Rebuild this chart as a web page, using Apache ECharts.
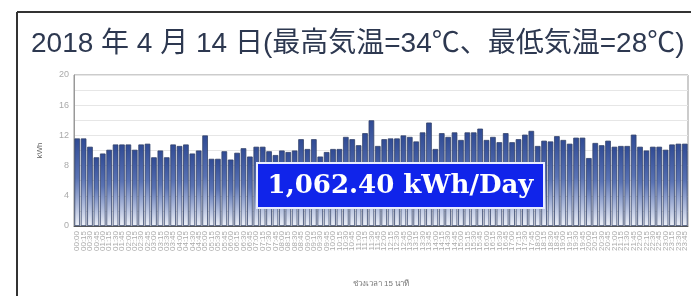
<!DOCTYPE html>
<html>
<head>
    <meta charset="utf-8"/>
    <title>ECharts</title>
    <script src="https://cdn.jsdelivr.net/npm/echarts@6/dist/echarts.min.js"></script>
    <style type="text/css">
        body{ margin:0; background:#fff; }
        #main{ width:691px; height:296px; }
    </style>
</head>
<body>
<div id="main"></div>
<script type="text/javascript">

    // 15-minute periods of the day
    var times = [];
    for (var h = 0; h < 24; h++) {
        for (var m = 0; m < 60; m += 15) {
            times.push((h < 10 ? '0' + h : h) + ':' + (m === 0 ? '00' : m));
        }
    }

    // kWh per 15 min
    var kwh = [
        11.6, 11.6, 10.5, 9.1, 9.6, 10.1, 10.8, 10.8, 10.8, 10.1, 10.8, 10.9,
        9.1, 10.0, 9.1, 10.8, 10.6, 10.8, 9.6, 10.0, 12.0, 8.9, 8.9, 9.9,
        8.8, 9.7, 10.3, 9.2, 10.5, 10.5, 9.9, 9.4, 10.0, 9.8, 10.0, 11.5,
        10.2, 11.5, 9.2, 9.8, 10.2, 10.2, 11.8, 11.5, 10.7, 12.3, 14.0, 10.6,
        11.5, 11.6, 11.6, 12.0, 11.8, 11.2, 12.4, 13.7, 10.2, 12.3, 11.8, 12.4,
        11.4, 12.4, 12.4, 12.9, 11.4, 11.8, 11.1, 12.3, 11.1, 11.5, 12.1, 12.6,
        10.6, 11.3, 11.2, 11.9, 11.4, 10.9, 11.7, 11.7, 9.0, 11.0, 10.7, 11.3,
        10.5, 10.6, 10.6, 12.1, 10.5, 10.0, 10.5, 10.5, 10.1, 10.8, 10.9, 10.9
    ];

    var yTicks = [0, 4, 8, 12, 16, 20];
    var dailyTotal = '1,062.40 kWh/Day';
    var titleText = '2018 年 4 月 14 日(最高気温=34℃、最低気温=28℃)';

    var myChart = echarts.init(document.getElementById('main'));

    var option = {
        backgroundColor: '#fff',
        animation: false,
        title: {
            text: titleText,
            left: 26,
            top: 25,
            textStyle: {
                fontFamily: 'Liberation Sans, Noto Sans CJK JP',
                fontSize: 28,
                fontWeight: 'normal',
                color: '#2d3850'
            }
        },
        grid: {
            left: 74,
            right: 3,
            top: 75,
            bottom: 70,
            show: true,
            borderColor: '#999',
            borderWidth: 1
        },
        xAxis: {
            type: 'category',
            data: times,
            name: 'ช่วงเวลา 15 นาที',
            nameLocation: 'middle',
            nameGap: 54,
            nameTextStyle: { fontSize: 8, color: '#777' },
            axisLine: { lineStyle: { color: '#555' } },
            axisTick: { show: false },
            axisLabel: {
                interval: 0,
                rotate: 90,
                fontSize: 8,
                color: '#aaa',
                margin: 5
            }
        },
        yAxis: {
            type: 'value',
            min: yTicks[0],
            max: yTicks[yTicks.length - 1],
            interval: 2,
            name: 'kWh',
            nameLocation: 'middle',
            nameGap: 30,
            nameTextStyle: { fontSize: 8, color: '#666' },
            axisLine: { show: true, lineStyle: { color: '#999' } },
            axisTick: { show: false },
            axisLabel: {
                fontSize: 9,
                color: '#aaa',
                margin: 5,
                formatter: function (v) {
                    return yTicks.indexOf(v) >= 0 ? v : '';
                }
            },
            splitLine: { lineStyle: { color: '#e6e6e6' } }
        },
        series: [
            {
                type: 'bar',
                data: kwh,
                barCategoryGap: '12%',
                z: 2,
                itemStyle: {
                    color: new echarts.graphic.LinearGradient(0, 0, 0, 1, [
                        { offset: 0, color: '#2f4a94' },
                        { offset: 0.45, color: '#5a73b4' },
                        { offset: 1, color: '#eef1f8' }
                    ]),
                    borderColor: '#34436a',
                    borderWidth: 0.8
                }
            }
        ],
        graphic: [
            {
                type: 'line',
                shape: { x1: 17, y1: 12, x2: 691, y2: 12 },
                style: { stroke: '#333', lineWidth: 2 }
            },
            {
                type: 'line',
                shape: { x1: 17, y1: 12, x2: 17, y2: 296 },
                style: { stroke: '#333', lineWidth: 2 }
            },
            {
                type: 'rect',
                z: 100,
                shape: { x: 257, y: 163, width: 287, height: 45 },
                style: { fill: '#1024ea', stroke: '#e8ecff', lineWidth: 2 }
            },
            {
                type: 'text',
                z: 101,
                x: 400.5,
                y: 186,
                style: {
                    text: dailyTotal,
                    fill: '#fff',
                    font: 'bold 26px "DejaVu Serif"',
                    textAlign: 'center',
                    textVerticalAlign: 'middle'
                }
            }
        ]
    };
    myChart.setOption(option);
</script>
</body>
</html>
